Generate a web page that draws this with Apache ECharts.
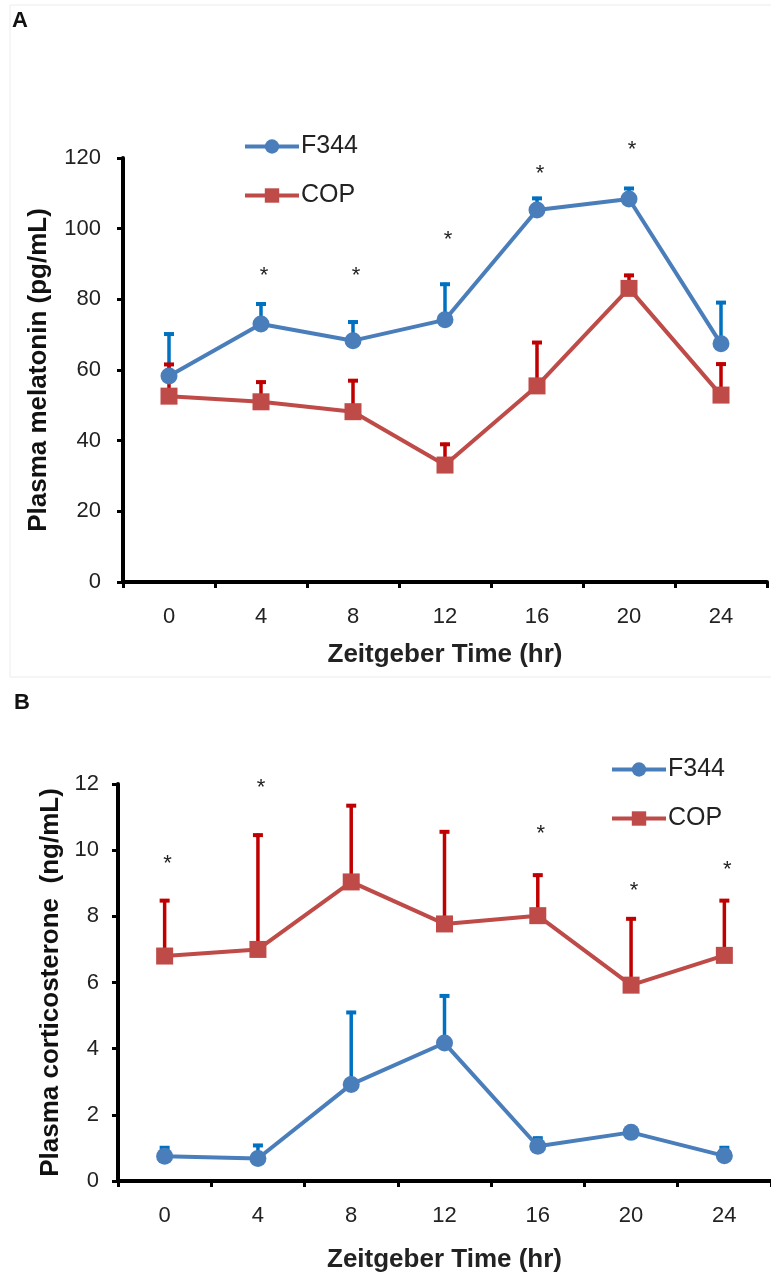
<!DOCTYPE html>
<html><head><meta charset="utf-8">
<script src="https://cdn.jsdelivr.net/npm/echarts@6/dist/echarts.min.js"></script>
<style>html,body{margin:0;padding:0;background:#fff}#c{width:771px;height:1274px}</style>
</head><body><div id="c"></div>
<script>
// ---- data ----
const zt = ['0', '4', '8', '12', '16', '20', '24'];
// Panel A: plasma melatonin (pg/mL)
const melF344 = [58.3, 73.0, 68.3, 74.2, 105.3, 108.4, 67.4];
const melF344Err = [12.3, 6.1, 5.7, 10.5, 3.7, 3.4, 12.1];
const melCOP = [52.6, 51.0, 48.2, 33.1, 55.5, 83.1, 52.9];
const melCOPErr = [9.4, 6.0, 9.2, 6.3, 12.7, 4.1, 9.2];
const melStarIdx = [1, 2, 3, 4, 5];
const melStarY = [86.6, 86.6, 96.8, 115.5, 122.3];
// Panel B: plasma corticosterone (ng/mL)
const corF344 = [0.75, 0.68, 2.92, 4.17, 1.05, 1.47, 0.76];
const corF344Err = [0.30, 0.44, 2.22, 1.47, 0.29, null, 0.29];
const corCOP = [6.80, 7.00, 9.04, 7.77, 8.02, 5.92, 6.82];
const corCOPErr = [1.72, 3.50, 2.35, 2.83, 1.27, 2.05, 1.70];
const corStarIdx = [0, 1, 4, 5, 6];
const corStarY = [9.57, 11.87, 10.5, 8.77, 9.4];

// ---- styles ----
const FONT = '"Liberation Sans", Arial, sans-serif';
const BLUE = '#4A7EBB', RED = '#BE4B48';
const BLUE_ERR = '#0070C0', RED_ERR = '#C00000';

function errSeries(mean, err, color, gi) {
  return {
    type: 'custom', xAxisIndex: gi, yAxisIndex: gi, z: 1, silent: true,
    data: mean.map((m, i) => [i, m, err[i] == null ? 0 : err[i]]),
    renderItem: function (params, api) {
      const i = api.value(0), m = api.value(1), e = api.value(2);
      if (!(e > 0)) return null;
      const p0 = api.coord([i, m]), p1 = api.coord([i, m + e]);
      return { type: 'group', children: [
        { type: 'line', shape: { x1: p0[0], y1: p0[1], x2: p1[0], y2: p1[1] }, style: { stroke: color, lineWidth: 3.5 } },
        { type: 'line', shape: { x1: p1[0] - 5, y1: p1[1] + 1.5, x2: p1[0] + 5, y2: p1[1] + 1.5 }, style: { stroke: color, lineWidth: 4 } }
      ]};
    }
  };
}
function starSeries(idx, ys, gi) {
  return {
    type: 'custom', xAxisIndex: gi, yAxisIndex: gi, z: 5, silent: true,
    data: idx.map((i, k) => [i, ys[k]]),
    renderItem: function (params, api) {
      const p = api.coord([api.value(0), api.value(1)]);
      return { type: 'text', x: p[0] + 3, y: p[1], style: { text: '*', font: '22px ' + FONT, fill: '#222', align: 'center', verticalAlign: 'middle' } };
    }
  };
}
function lineSeries(name, data, color, symbol, gi) {
  return {
    name: name, type: 'line', xAxisIndex: gi, yAxisIndex: gi, z: 3, data: data,
    symbol: symbol, symbolSize: 17, showSymbol: true,
    lineStyle: { color: color, width: 4 }, itemStyle: { color: color }
  };
}
function xAx(gi, nameGap) {
  return {
    type: 'category', gridIndex: gi, data: zt, boundaryGap: true,
    axisLine: { lineStyle: { color: '#000', width: 4 } },
    axisTick: { show: true, length: 6, lineStyle: { color: '#000', width: 3 } },
    axisLabel: { fontSize: 22, color: '#222', fontFamily: FONT, margin: 24 },
    name: 'Zeitgeber Time (hr)', nameLocation: 'middle', nameGap: nameGap,
    nameTextStyle: { fontSize: 26, fontWeight: 'bold', color: '#222', fontFamily: FONT },
    splitLine: { show: false }
  };
}
function yAx(gi, max, interval, name, nameGap, margin) {
  return {
    type: 'value', gridIndex: gi, min: 0, max: max, interval: interval,
    axisLine: { show: true, lineStyle: { color: '#000', width: 4 } },
    axisTick: { show: true, length: 6, lineStyle: { color: '#000', width: 3 } },
    axisLabel: { fontSize: 22, color: '#222', fontFamily: FONT, margin: margin },
    splitLine: { show: false },
    name: name, nameLocation: 'middle', nameGap: nameGap,
    nameTextStyle: { fontSize: 26, fontWeight: 'bold', color: '#111', fontFamily: FONT }
  };
}
const legendCommon = {
  data: ['F344', 'COP'], orient: 'vertical', itemWidth: 54, itemHeight: 18, itemGap: 24, padding: 0,
  lineStyle: { width: 4 },
  selectedMode: false, textStyle: { fontSize: 25, color: '#222', fontFamily: FONT, padding: [0, 0, 0, -3] }
};

const chart = echarts.init(document.getElementById('c'), null, { renderer: 'canvas' });
chart.setOption({
  backgroundColor: '#fff',
  animation: false,
  graphic: [
    { type: 'rect', shape: { x: 10, y: 5, width: 770, height: 672 }, style: { fill: 'none', stroke: '#ececec', lineWidth: 1 }, silent: true },
    { type: 'text', left: 12, top: 10, style: { text: 'A', font: 'bold 22px ' + FONT, fill: '#111' } },
    { type: 'text', left: 14, top: 692, style: { text: 'B', font: 'bold 22px ' + FONT, fill: '#111' } }
  ],
  legend: [
    Object.assign({}, legendCommon, { left: 243, top: 134 }),
    Object.assign({}, legendCommon, { left: 610, top: 757 })
  ],
  grid: [
    { left: 123, top: 158, width: 644, height: 424, containLabel: false },
    { left: 118, top: 784, width: 661, height: 400, containLabel: false }
  ],
  xAxis: [xAx(0, 60), xAx(1, 66)],
  yAxis: [
    yAx(0, 120, 20, 'Plasma melatonin (pg/mL)', 71, 22),
    yAx(1, 12, 2, 'Plasma corticosterone  (ng/mL)', 54, 19)
  ],
  series: [
    errSeries(melF344, melF344Err, BLUE_ERR, 0),
    errSeries(melCOP, melCOPErr, RED_ERR, 0),
    lineSeries('F344', melF344, BLUE, 'circle', 0),
    lineSeries('COP', melCOP, RED, 'rect', 0),
    starSeries(melStarIdx, melStarY, 0),
    errSeries(corF344, corF344Err, BLUE_ERR, 1),
    errSeries(corCOP, corCOPErr, RED_ERR, 1),
    lineSeries('F344', corF344, BLUE, 'circle', 1),
    lineSeries('COP', corCOP, RED, 'rect', 1),
    starSeries(corStarIdx, corStarY, 1)
  ]
});
</script>
</body></html>
